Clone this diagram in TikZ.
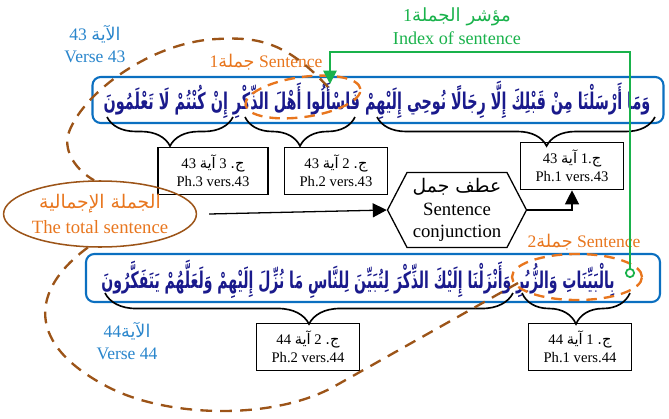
\documentclass[tikz,border=0pt]{standalone}
\usepackage{fontspec}
\usepackage{graphicx}
\setmainfont{Liberation Serif}
\newfontfamily\arabicfont[Script=Arabic]{DejaVu Sans}
\TeXXeTstate=1
\usetikzlibrary{shapes.geometric,shapes.symbols,arrows.meta,decorations.pathreplacing}

\definecolor{clrverse}{HTML}{0B6FC0}
\definecolor{clrtext}{HTML}{1A1A8C}
\definecolor{clrnum}{HTML}{2A86CC}
\definecolor{clrsent}{HTML}{E8761E}
\definecolor{clrloop}{HTML}{9C5418}
\definecolor{clrindex}{HTML}{19B24B}

\newcommand\arb[1]{{\arabicfont\beginR #1\endR}}

\begin{document}
\begin{tikzpicture}[x=0.03cm, y=-0.03cm,
  versebox/.style={draw=clrverse, line width=1.8pt, rounded corners=0.25cm},
  versetxt/.style={text=clrtext, inner sep=0pt},
  phbox/.style={draw, line width=1.1pt, align=center, minimum width=3.1cm,
    minimum height=1.42cm, inner sep=1pt, font=\fontsize{12.5}{15}\selectfont},
  brc/.style={decorate, line width=1.4pt},
  arr/.style={line width=1.1pt, -{Triangle[length=0.42cm, width=0.42cm]}},
  hexa/.style={draw, line width=1.1pt, shape=signal, signal to=east and west,
    signal pointer angle=125, minimum width=4.17cm, minimum height=2.25cm,
    align=center, inner sep=0pt, font=\fontsize{16}{19}\selectfont},
  lbl/.style={align=center, inner sep=0pt, font=\fontsize{15}{19}\selectfont},
  loop/.style={draw=clrloop, line width=2pt, dash pattern=on 10pt off 7pt},
  sentdash/.style={draw=clrsent, line width=2pt, dash pattern=on 9pt off 6pt,
    ellipse, inner sep=0pt},
  idxline/.style={draw=clrindex, line width=1.5pt,
    {Circle[open, fill=white, length=0.3cm, width=0.3cm]}-{Triangle[length=0.4cm, width=0.4cm]}}
]
\useasboundingbox (0,0) rectangle (669,418);

% verse 43
\node[versebox, minimum width=17.13cm, minimum height=1.38cm] (v43) at (378,100) {};
\node[versetxt] (t43) at (377,100) {\resizebox*{16.4cm}{1.15cm}{\arb{\bfseries وَمَا أَرْسَلْنَا مِنْ قَبْلِكَ إِلَّا رِجَالًا نُوحِي إِلَيْهِمْ فَاسْأَلُوا أَهْلَ الذِّكْرِ إِنْ كُنْتُمْ لَا تَعْلَمُونَ}}};
\node[lbl, text=clrnum] (n43) at (95,44) {43 \arb{الآية}\\Verse 43};

% verse 44
\node[versebox, minimum width=17.22cm, minimum height=1.44cm] (v44) at (373,278) {};
\node[versetxt] (t44) at (358,279) {\resizebox*{15.4cm}{1.15cm}{\arb{\bfseries بِالْبَيِّنَاتِ وَالزُّبُرِ وَأَنْزَلْنَا إِلَيْكَ الذِّكْرَ لِتُبَيِّنَ لِلنَّاسِ مَا نُزِّلَ إِلَيْهِمْ وَلَعَلَّهُمْ يَتَفَكَّرُونَ}}};
\node[lbl, text=clrnum] (n44) at (127,341) {44\arb{الآية}\\Verse 44};

% braces and sentence boxes
\draw[brc, decoration={brace, amplitude=0.87cm, aspect=0.39}] (655,117) -- (377,117);
\draw[brc, decoration={brace, amplitude=0.87cm}] (355,117) -- (245,117);
\draw[brc, decoration={brace, amplitude=0.87cm}] (233,117) -- (107,117);
\draw[brc, decoration={brace, amplitude=0.93cm}] (630,293) -- (522,293);
\draw[brc, decoration={brace, amplitude=0.93cm}] (513,293) -- (105,293);

\node[phbox] (p43a) at (572,166) {43 \arb{آية} 1.\arb{ج}\\Ph.1 vers.43};
\node[phbox] (p43b) at (336,171) {43 \arb{آية} 2 \arb{ج.}\\Ph.2 vers.43};
\node[phbox, minimum width=3.3cm] (p43c) at (213,171) {43 \arb{آية} 3 \arb{ج.}\\Ph.3 vers.43};
\node[phbox] (p44a) at (580,347) {44 \arb{آية} 1 \arb{ج.}\\Ph.1 vers.44};
\node[phbox] (p44b) at (308,347) {44 \arb{آية} 2 \arb{ج.}\\Ph.2 vers.44};

% total sentence and conjunction
\node[ellipse, draw=clrloop, line width=1.3pt, text=clrsent, align=center,
  minimum width=4.98cm, minimum height=1.98cm, inner sep=0pt,
  font=\fontsize{16}{21}\selectfont] (total) at (100,214) {\arb{الجملة الإجمالية}\\The total sentence};
\node[hexa] (conj) at (457,210) {\arb{عطف جمل}\\Sentence\\conjunction};

\draw[arr] ([xshift=0.36cm]total.east) -- (conj.west);
\draw[arr] (conj.east) -| (p43a.south);

% sentence markers
\node[sentdash, minimum width=3.48cm, minimum height=1.2cm, rotate=8] (s1) at (303,97) {};
\node[sentdash, minimum width=3.9cm, minimum height=1.38cm] (s2) at (577,277) {};
\node[lbl, text=clrsent] (s1lbl) at (266,62) {1\arb{جملة} Sentence};
\node[lbl, text=clrsent] (s2lbl) at (584,242) {2\arb{جملة} Sentence};

% index of sentence
\node[lbl, text=clrindex, font=\fontsize{15.5}{20}\selectfont] (idx) at (457,26) {1\arb{مؤشر الجملة}\\Index of sentence};
\coordinate (i2) at (630,278);
\coordinate (i1) at (330,84);
\coordinate (bend) at (630,52);
\draw[idxline] (i2) -- (bend) -| (i1);

% the loop round the whole
\draw[loop] (328,87) .. controls (285,40) and (255,37) .. (217,39)
  .. controls (150,42) and (80,95) .. (68,135)
  .. controls (64,152) and (76,170) .. (total.100);
\draw[loop] (total.250) .. controls (30,290) and (25,345) .. (110,388)
  .. controls (170,418) and (275,420) .. (335,386) -- (518,283);
\end{tikzpicture}
\end{document}
